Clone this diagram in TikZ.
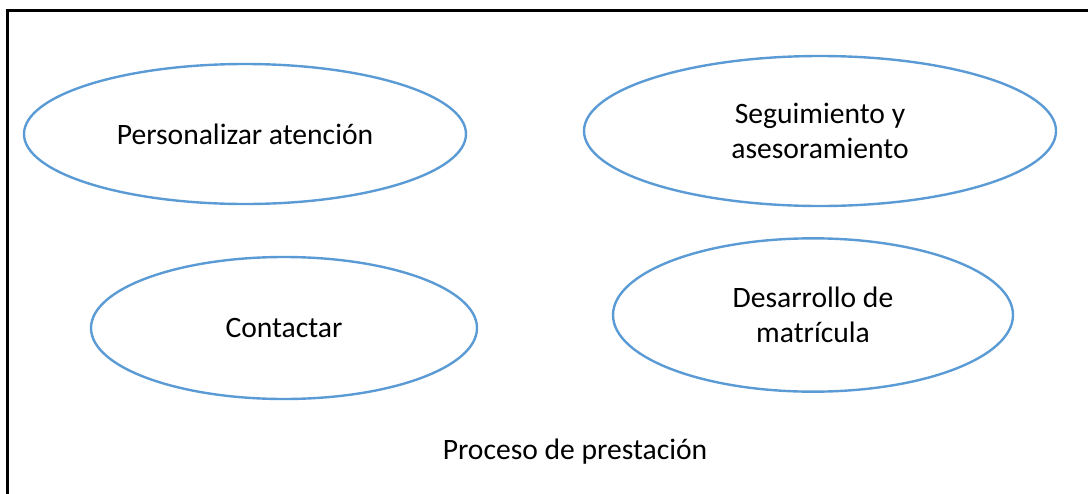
\documentclass[tikz,border=0pt]{standalone}
\usepackage{fontspec}
\setmainfont{Carlito}
\usetikzlibrary{shapes.geometric}

\definecolor{ovalblue}{HTML}{5B9BD5}
\tikzset{
  oval/.style={ellipse, draw=ovalblue, line width=1.8pt, inner sep=0pt, align=center},
  txt/.style={font=\fontsize{22.2}{26.5}\selectfont}
}

\begin{document}
\begin{tikzpicture}[x=0.75pt, y=-0.75pt]
            \clip (0,0) rectangle (1088,493);
            \useasboundingbox (0,0) rectangle (1088,493);

            %Frame
            \draw[line width=2.2pt] (7.5,10.5) rectangle (1100,510);

            %Nodes
            \node[oval, txt, minimum width=331.5pt, minimum height=105pt] at (245,134) (pers) {Personalizar atención};
            \node[oval, txt, minimum width=354pt, minimum height=112.5pt] at (820,131) (seg) {Seguimiento y\\asesoramiento};
            \node[oval, txt, minimum width=289.5pt, minimum height=106.5pt] at (284,328) (cont) {Contactar};
            \node[oval, txt, minimum width=300pt, minimum height=115pt] at (813,315) (des) {Desarrollo de\\matrícula};
            \node[txt] at (575,452) (proc) {Proceso de prestación};
        \end{tikzpicture}
\end{document}
